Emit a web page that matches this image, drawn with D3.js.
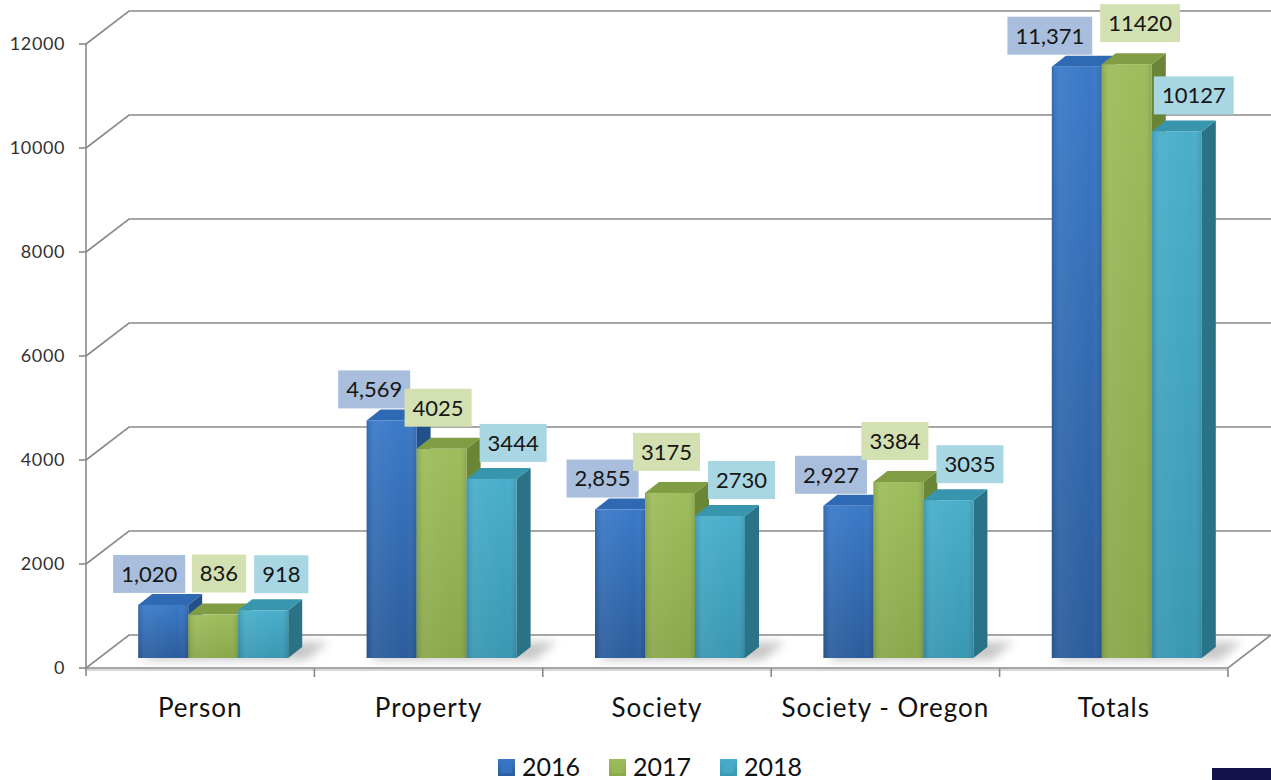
<!DOCTYPE html>
<html>
<head>
<meta charset="utf-8">
<script src="https://cdn.jsdelivr.net/npm/d3@7"></script>
<style>
  body { margin: 0; background: #fff; }
  svg { display: block; font-family: Lato, "Open Sans", sans-serif; }
</style>
</head>
<body>
<script>
// data
const categories = ["Person", "Property", "Society", "Society - Oregon", "Totals"];
const seriesNames = ["2016", "2017", "2018"];
const values2016 = [1020, 4569, 2855, 2927, 11371];
const values2017 = [836, 4025, 3175, 3384, 11420];
const values2018 = [918, 3444, 2730, 3035, 10127];
const yTicks = [0, 2000, 4000, 6000, 8000, 10000, 12000];

const allValues = [values2016, values2017, values2018];

const width = 1271, height = 780;
const svg = d3.select("body").append("svg")
    .attr("width", width)
    .attr("height", height);

// plot geometry (front plane), and 3d offsets
const plotLeft = 86, plotRight = 1228, plotTop = 44, plotBottom = 668;
const wall = {dx: 43, dy: -33};     // depth of back wall
const barOff = {dx: 13, dy: -10};   // bar front face inset
const barDepth = {dx: 14, dy: -11}; // bar thickness

const x = d3.scaleBand().domain(categories).range([plotLeft, plotRight]);
const x1 = d3.scaleBand().domain(seriesNames).range([-75, 75]);
const y = d3.scaleLinear().domain([0, 12000]).range([plotBottom, plotTop]);

const styles = {
    "2016": {top: "#3a79c8", bot: "#2b5c9c", side: "#21508a", cap: "#2f69b3", label: "#a8bedc", dx: -14, dy: -31},
    "2017": {top: "#9dbd5b", bot: "#89a84a", side: "#6a8535", cap: "#809d44", label: "#d3e0b1", dx: 9, dy: -41},
    "2018": {top: "#49aecb", bot: "#3997b2", side: "#2a7286", cap: "#3895ae", label: "#a8d6e3", dx: 17, dy: -36}
};

const defs = svg.append("defs");
seriesNames.forEach((s, i) => {
    const st = styles[s];
    const g = defs.append("linearGradient").attr("id", "front" + i)
        .attr("x1", 0).attr("y1", 0).attr("x2", 0).attr("y2", 1);
    g.append("stop").attr("offset", "0%").attr("stop-color", st.top);
    g.append("stop").attr("offset", "100%").attr("stop-color", st.bot);
    const h = defs.append("linearGradient").attr("id", "shine" + i)
        .attr("x1", 0).attr("y1", 0).attr("x2", 1).attr("y2", 0);
    h.append("stop").attr("offset", "0%").attr("stop-color", "#000").attr("stop-opacity", 0.12);
    h.append("stop").attr("offset", "15%").attr("stop-color", "#fff").attr("stop-opacity", 0.06);
    h.append("stop").attr("offset", "80%").attr("stop-color", "#fff").attr("stop-opacity", 0);
    h.append("stop").attr("offset", "100%").attr("stop-color", "#000").attr("stop-opacity", 0.12);
});
defs.append("filter").attr("id", "blur")
    .attr("x", "-50%").attr("y", "-50%").attr("width", "200%").attr("height", "200%")
    .append("feGaussianBlur").attr("stdDeviation", 5);

const pts = arr => arr.map(p => p.join(",")).join(" ");

// back wall gridlines
const grid = svg.append("g");
yTicks.forEach(t => {
    if (t === 0) return;
    grid.append("polyline")
        .attr("points", pts([[plotLeft, y(t)], [plotLeft + wall.dx, y(t) + wall.dy], [width, y(t) + wall.dy]]))
        .attr("fill", "none").attr("stroke", "#8a8a8a").attr("stroke-width", 1.6);
});

// floor
svg.append("polygon")
    .attr("points", pts([[plotLeft, plotBottom], [plotRight, plotBottom], [plotRight + wall.dx, plotBottom + wall.dy], [plotLeft + wall.dx, plotBottom + wall.dy]]))
    .attr("fill", "#fff").attr("stroke", "#8a8a8a").attr("stroke-width", 1.6);
svg.append("line")
    .attr("x1", plotLeft).attr("x2", plotRight).attr("y1", plotBottom + 2).attr("y2", plotBottom + 2)
    .attr("stroke", "#d8d8d8").attr("stroke-width", 2);

// soft floor shadows behind each group
categories.forEach(c => {
    const gx = x(c) + x.bandwidth() / 2 + barOff.dx - 75;
    const fy = plotBottom + barOff.dy;
    svg.append("polygon")
        .attr("points", pts([[gx + 4, fy + 2], [gx + 168, fy + 2], [gx + 190, fy - 16], [gx + 20, fy - 16]]))
        .attr("fill", "#9a9a9a").attr("opacity", 0.55).attr("filter", "url(#blur)");
});

// y axis
svg.append("line").attr("x1", plotLeft).attr("x2", plotLeft).attr("y1", plotTop).attr("y2", plotBottom + 8)
    .attr("stroke", "#8a8a8a").attr("stroke-width", 1.6);
const ya = svg.append("g");
yTicks.forEach(t => {
    ya.append("line").attr("x1", plotLeft - 7).attr("x2", plotLeft).attr("y1", y(t)).attr("y2", y(t))
        .attr("stroke", "#8a8a8a").attr("stroke-width", 1.6);
    ya.append("text").attr("x", 65).attr("y", y(t)).attr("dy", "0.36em")
        .attr("text-anchor", "end").attr("font-size", 18).attr("letter-spacing", 0.6)
        .attr("fill", "#333").text(t);
});

// x axis ticks + labels
const xa = svg.append("g");
categories.forEach((c, i) => {
    xa.append("line").attr("x1", x(c) + x.bandwidth()).attr("x2", x(c) + x.bandwidth())
        .attr("y1", plotBottom).attr("y2", plotBottom + 9)
        .attr("stroke", "#8a8a8a").attr("stroke-width", 1.6);
    xa.append("text").attr("x", x(c) + x.bandwidth() / 2).attr("y", 717)
        .attr("text-anchor", "middle").attr("font-size", 26).attr("letter-spacing", 1)
        .attr("fill", "#111").text(c);
});

// bars
const bars = svg.append("g");
const labels = [];
categories.forEach((c, ci) => {
    const groupLabels = [];
    seriesNames.forEach((s, si) => {
        const v = allValues[si][ci];
        const st = styles[s];
        const x0 = x(c) + x.bandwidth() / 2 + barOff.dx + x1(s);
        const x2 = x0 + x1.bandwidth();
        const yb = y(0) + barOff.dy;
        const yt = y(v) + barOff.dy;
        const dx = barDepth.dx, dy = barDepth.dy;
        // side
        bars.append("polygon")
            .attr("points", pts([[x2, yt], [x2 + dx, yt + dy], [x2 + dx, yb + dy], [x2, yb]]))
            .attr("fill", st.side);
        // top
        bars.append("polygon")
            .attr("points", pts([[x0, yt], [x2, yt], [x2 + dx, yt + dy], [x0 + dx, yt + dy]]))
            .attr("fill", st.cap);
        // front
        bars.append("rect").attr("x", x0).attr("y", yt).attr("width", x2 - x0).attr("height", yb - yt)
            .attr("fill", `url(#front${si})`);
        bars.append("rect").attr("x", x0).attr("y", yt).attr("width", x2 - x0).attr("height", yb - yt)
            .attr("fill", `url(#shine${si})`);
        groupLabels.push({
            text: si === 0 ? d3.format(",")(v) : d3.format("d")(v),
            cx: (x0 + x2) / 2 + st.dx,
            cy: yt + st.dy,
            color: st.label
        });
    });
    labels.push(groupLabels);
});

// data labels, pushed apart sideways when two boxes collide
const lg = svg.append("g");
labels.forEach(group => {
    group.forEach(l => {
        l.node = lg.append("g");
        l.rect = l.node.append("rect").attr("fill", l.color);
        l.txt = l.node.append("text").attr("text-anchor", "middle").attr("dy", "0.36em")
            .attr("font-size", 22).attr("fill", "#151515").text(l.text);
        l.w = l.txt.node().getComputedTextLength() + 16;
        l.h = 38;
    });
    for (let k = 1; k < group.length; k++) {
        const a = group[k - 1], b = group[k];
        if (Math.abs(a.cy - b.cy) < a.h) {
            const overlap = (a.cx + a.w / 2 + 8) - (b.cx - b.w / 2);
            if (overlap > 0) { a.cx -= overlap * 0.75; b.cx += overlap * 0.25; }
        }
    }
    group.forEach(l => {
        l.rect.attr("x", l.cx - l.w / 2).attr("y", l.cy - l.h / 2).attr("width", l.w).attr("height", l.h);
        l.txt.attr("x", l.cx).attr("y", l.cy);
    });
});

// legend
const legend = svg.append("g");
const legendX = [498, 609, 720];
seriesNames.forEach((s, si) => {
    legend.append("rect").attr("x", legendX[si]).attr("y", 759).attr("width", 17).attr("height", 17)
        .attr("fill", `url(#front${si})`);
    legend.append("rect").attr("x", legendX[si] + 3).attr("y", 762).attr("width", 11).attr("height", 11)
        .attr("fill", styles[s].top).attr("opacity", 0.6);
    legend.append("text").attr("x", legendX[si] + 24).attr("y", 776)
        .attr("font-size", 25).attr("fill", "#111").text(s);
});

// dark tab at bottom right corner
svg.append("rect").attr("x", 1212).attr("y", 768).attr("width", 59).attr("height", 12).attr("fill", "#13124a");
</script>
</body>
</html>
